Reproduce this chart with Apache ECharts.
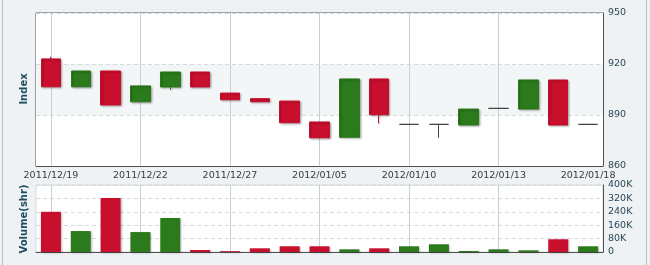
<!DOCTYPE html>
<html>
<head>
<meta charset="utf-8">
<script src="https://cdn.jsdelivr.net/npm/echarts@6/dist/echarts.min.js"></script>
<style>
html,body{margin:0;padding:0;background:#eef2f4;}
#c{width:650px;height:265px;}
</style>
</head>
<body>
<div id="c"></div>
<script>
var dates = ['2011/12/19','2011/12/20','2011/12/21','2011/12/22','2011/12/23','2011/12/26','2011/12/27','2011/12/28','2011/12/29','2012/01/05','2012/01/06','2012/01/09','2012/01/10','2012/01/11','2012/01/12','2012/01/13','2012/01/16','2012/01/17','2012/01/18'];
var opens  = [923.0, 906.6, 915.9, 897.8, 906.5, 915.3, 902.9, 899.6, 898.2, 885.9, 876.9, 911.2, 884.5, 884.5, 884.1, 893.9, 893.5, 910.6, 884.5];
var closes = [906.6, 915.9, 895.9, 907.1, 915.3, 906.5, 899.0, 897.8, 885.5, 876.6, 911.2, 890.2, 884.5, 884.5, 893.5, 893.9, 910.6, 884.1, 884.5];
var lows   = [906.6, 906.6, 895.9, 897.8, 904.7, 906.5, 899.0, 897.8, 885.5, 876.6, 876.9, 885.1, 884.5, 876.6, 884.1, 893.9, 893.5, 884.1, 884.5];
var highs  = [924.3, 915.9, 915.9, 907.1, 915.3, 915.3, 902.9, 899.6, 898.2, 885.9, 911.2, 911.2, 884.5, 884.5, 893.5, 893.9, 910.6, 910.6, 884.5];
var volumes = [240000, 125000, 322000, 119000, 203000, 12000, 5000, 22000, 34000, 34000, 16000, 22000, 34000, 46000, 6000, 16000, 10000, 76000, 34000];
var indexTicks = [860, 890, 920, 950];
var volumeTicks = [0, 80000, 160000, 240000, 320000, 400000];

var RED = '#c80f2d', GREEN = '#2b7a1b', DOJI = '#444444';
var shadow = {shadowColor:'rgba(0,0,0,0.28)', shadowBlur:2, shadowOffsetX:1, shadowOffsetY:1};

var candleData = dates.map(function(d, i){
  var o = opens[i], c = closes[i];
  var col = o === c ? DOJI : (c > o ? GREEN : RED);
  return {value:[o, c, lows[i], highs[i]],
          itemStyle:Object.assign({color:col, color0:col, borderColor:col, borderColor0:col, borderWidth:1}, o===c?{}:shadow)};
});
var volData = dates.map(function(d, i){
  var col = closes[i] >= opens[i] ? GREEN : RED;
  return {value:volumes[i], itemStyle:Object.assign({color:col}, shadow)};
});
var gridIdx = function(i){ return i % 3 === 0 && i < 18; };

var labelFont = {fontFamily:'DejaVu Sans', fontSize:9.5, color:'#2c4655'};
var chart = echarts.init(document.getElementById('c'), null, {renderer:'canvas'});
chart.setOption({
  backgroundColor:'#eef2f4',
  animation:false,
  grid:[
    {left:36, top:13, width:567, height:153, show:true, backgroundColor:'#ffffff', borderColor:'#505050', borderWidth:1},
    {left:36, top:185, width:567, height:67, show:true, backgroundColor:'#ffffff', borderColor:'#d2dadd', borderWidth:1}
  ],
  xAxis:[
    {type:'category', gridIndex:0, data:dates, boundaryGap:true,
     axisLine:{show:true, lineStyle:{color:'#505050'}}, axisTick:{show:false},
     axisLabel:Object.assign({interval:2, margin:5, color:'#333d44'}, {fontFamily:'DejaVu Sans', fontSize:9.5}),
     splitLine:{show:true, interval:gridIdx, alignWithLabel:true, lineStyle:{color:'#c3d2d8', width:1}}},
    {type:'category', gridIndex:1, data:dates, boundaryGap:true, position:'top',
     axisLine:{show:true, lineStyle:{color:'#505050'}}, axisTick:{show:false}, axisLabel:{show:false},
     splitLine:{show:true, interval:gridIdx, alignWithLabel:true, lineStyle:{color:'#c3d2d8', width:1}}}
  ],
  yAxis:[
    {type:'value', gridIndex:0, position:'right', min:indexTicks[0], max:indexTicks[indexTicks.length-1], interval:30,
     axisLine:{show:true, lineStyle:{color:'#505050'}}, axisTick:{show:false},
     axisLabel:Object.assign({margin:5}, labelFont),
     splitLine:{show:true, lineStyle:{color:'#d3dadd', type:[4,3]}},
     splitArea:{show:true, areaStyle:{color:['#ffffff','#f3f6f7']}}},
    {type:'value', gridIndex:1, position:'right', min:volumeTicks[0], max:volumeTicks[volumeTicks.length-1], interval:80000,
     axisLine:{show:true, lineStyle:{color:'#505050'}}, axisTick:{show:false},
     axisLabel:Object.assign({margin:5, formatter:function(v){return v===0?'0':(v/1000)+'K';}}, labelFont),
     splitLine:{show:true, lineStyle:{color:'#d3dadd', type:[4,3]}}}
  ],
  graphic:[
    {type:'rect', silent:true, z:-1, shape:{x:2.5, y:-5, width:644, height:280}, style:{fill:null, stroke:'#b7c1c5', lineWidth:1}},
    {type:'text', x:24, y:89, rotation:Math.PI/2, style:{text:'Index', fill:'#1e4e5e', font:'bold 10px DejaVu Sans', textAlign:'center', textVerticalAlign:'middle'}},
    {type:'text', x:24, y:219, rotation:Math.PI/2, style:{text:'Volume(shr)', fill:'#1e4e5e', font:'bold 10px DejaVu Sans', textAlign:'center', textVerticalAlign:'middle'}}
  ],
  series:[
    {type:'candlestick', xAxisIndex:0, yAxisIndex:0, barWidth:20, data:candleData},
    {type:'bar', xAxisIndex:1, yAxisIndex:1, barWidth:20, data:volData}
  ]
});
</script>
</body>
</html>
